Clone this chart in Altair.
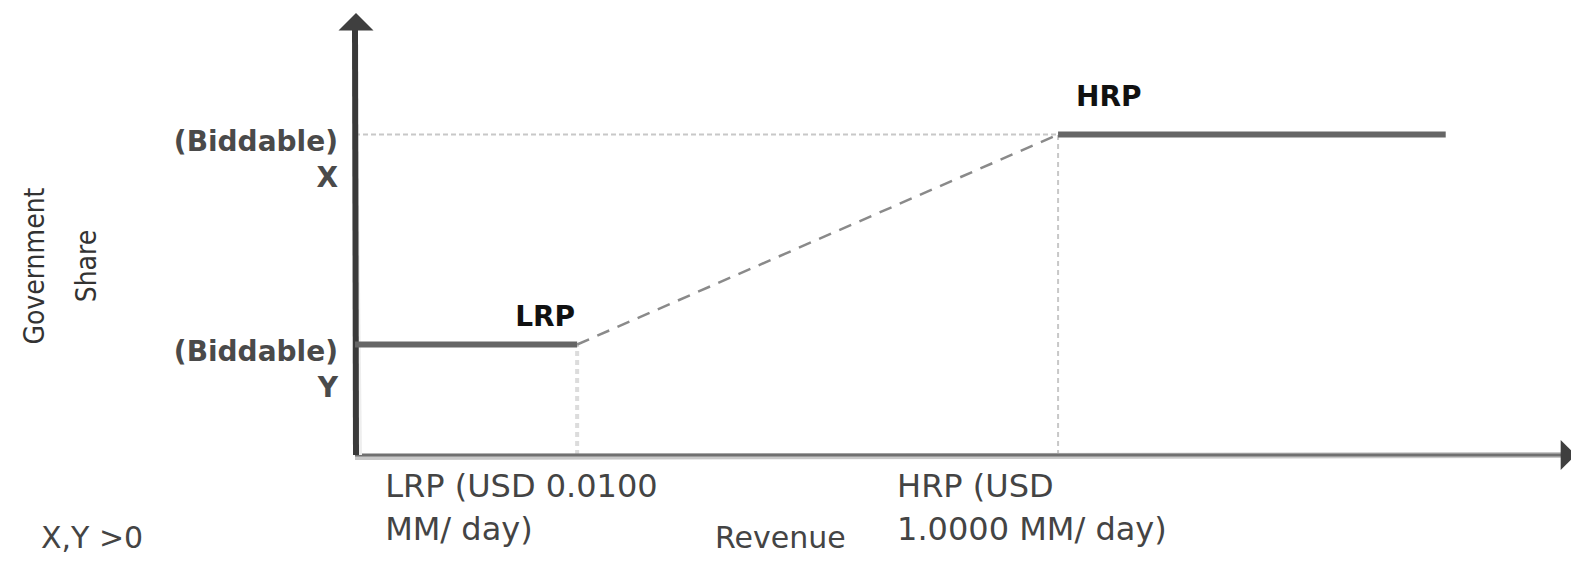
import altair as alt
import pandas as pd

# ---------------- data (schematic units) ----------------
point_names = ["Origin", "LRP", "HRP", "End"]
revenue = [0.0, 2.0, 6.33, 9.82]          # revenue positions of the break points
share_names = ["Y", "X"]
share = [1.0, 2.9]                         # government share levels
axis_max = [10.93, 4.0]                    # x-axis length, y-axis length
y_labels = ["(Biddable)\nY", "(Biddable)\nX"]
x_labels = ["LRP (USD 0.0100\nMM/ day)", "HRP (USD\n1.0000 MM/ day)"]
point_labels = ["LRP", "HRP"]
x_title = "Revenue"
y_title = "Government\nShare"
note = "X,Y >0"

X0, XL, XH, XE = revenue
YL, YH = share
XMAX, YMAX = axis_max

xs = alt.Scale(domain=[0, XMAX], nice=False, zero=False)
ys = alt.Scale(domain=[0, YMAX], nice=False, zero=False)
FONT = "DejaVu Sans"


def seg(rows, **mark):
    df = pd.DataFrame(rows, columns=["x", "y", "x2", "y2"])
    return alt.Chart(df).mark_rule(**mark).encode(
        x=alt.X("x:Q", scale=xs, axis=None),
        y=alt.Y("y:Q", scale=ys, axis=None),
        x2="x2:Q",
        y2="y2:Q",
    )


def txt(xv, yv, t, font=FONT, **mark):
    df = pd.DataFrame({"x": xv, "y": yv, "t": t})
    return alt.Chart(df).mark_text(lineBreak="\n", font=font, **mark).encode(
        x=alt.X("x:Q", scale=xs, axis=None),
        y=alt.Y("y:Q", scale=ys, axis=None),
        text="t:N",
    )


def arrow(xv, yv, path, **mark):
    df = pd.DataFrame({"x": [xv], "y": [yv]})
    return alt.Chart(df).mark_point(shape=path, filled=True, opacity=1, strokeWidth=0, **mark).encode(
        x=alt.X("x:Q", scale=xs, axis=None),
        y=alt.Y("y:Q", scale=ys, axis=None),
    )


# guides (dotted)
guide_h = seg([[X0, YH, XH, YH]], color="#c8c8c8", strokeWidth=2, strokeDash=[5, 3])
guide_l = seg([[XL, 0, XL, YL]], color="#dcdcdc", strokeWidth=4, strokeDash=[5, 4])
guide_r = seg([[XH, 0, XH, YH]], color="#c8c8c8", strokeWidth=2, strokeDash=[5, 4])

# axes
x_axis_shade = seg([[X0, 0, XMAX, 0]], color="#c8c8c8", strokeWidth=6, yOffset=2)
x_axis = seg([[X0, 0, XMAX, 0]], color="#707070", strokeWidth=3)
y_axis_shade = seg([[X0, 0, X0, YMAX - 0.15]], color="#eeeeee", strokeWidth=4, xOffset=5)
y_axis = seg([[X0, 0, X0, YMAX - 0.15]], color="#3a3a3a", strokeWidth=6, xOffset=1)
y_arrow = arrow(X0, YMAX, "M0,0L1,1L-1,1Z", size=1225, color="#3f3f3f", xOffset=1)
x_arrow = arrow(XMAX + 0.06, 0, "M0,0L-1,-1L-1,1Z", size=900, color="#3f3f3f")

# share schedule
flat_low = seg([[X0, YL, XL, YL]], color="#666666", strokeWidth=6)
flat_high = seg([[XH, YH, XE, YH]], color="#666666", strokeWidth=6)
ramp = seg([[XL, YL, XH, YH]], color="#8a8a8a", strokeWidth=2.5, strokeDash=[13, 9])

# text
ylab = txt([X0, X0], share, y_labels, align="right", baseline="top", dx=-17, dy=-6,
           fontSize=28, fontWeight="bold", color="#4a4a4a", lineHeight=36)
lrp_lab = txt([XL], [YL], [point_labels[0]], align="right", baseline="alphabetic", dx=-2, dy=-19,
              fontSize=28, fontWeight="bold", color="#111111")
hrp_lab = txt([XH], [YH], [point_labels[1]], align="left", baseline="alphabetic", dx=18, dy=-29,
              fontSize=28, fontWeight="bold", color="#111111")
xlab_l = txt([XL], [0], [x_labels[0]], align="left", baseline="top", dx=-192, dy=17,
             fontSize=32, color="#444444", lineHeight=43)
xlab_r = txt([XH], [0], [x_labels[1]], align="left", baseline="top", dx=-161, dy=17,
             fontSize=32, color="#444444", lineHeight=43)
xtitle = txt([X0], [0], [x_title], align="left", baseline="alphabetic", dx=360, dy=93,
             fontSize=30, color="#444444")
note_t = txt([X0], [0], [note], align="left", baseline="alphabetic", dx=-314, dy=93,
             fontSize=30, color="#444444")
ytitle = alt.Chart(pd.DataFrame({"t": [y_title]})).mark_text(
    lineBreak="\n",
    font="'Liberation Sans Narrow', 'DejaVu Sans Condensed', 'Liberation Sans', sans-serif",
    fontSize=28, angle=270,
    align="center", baseline="middle", lineHeight=52, color="#333333",
).encode(
    x=alt.datum(-2.875, scale=xs),
    y=alt.datum(1.71, scale=ys),
    text="t:N",
)

chart = alt.layer(
    guide_h, guide_l, guide_r,
    x_axis_shade, x_axis, y_axis_shade, y_axis, y_arrow, x_arrow,
    flat_low, flat_high, ramp,
    ylab, lrp_lab, hrp_lab, xlab_l, xlab_r, xtitle, note_t, ytitle,
).properties(
    width=1214,
    height=442,
    autosize=alt.AutoSizeParams(type="none"),
    padding={"left": 347, "top": 5, "right": 2, "bottom": 102},
    background="white",
).configure_view(stroke=None)

chart.save("out.html", embed_options={"renderer": "svg", "actions": False})
